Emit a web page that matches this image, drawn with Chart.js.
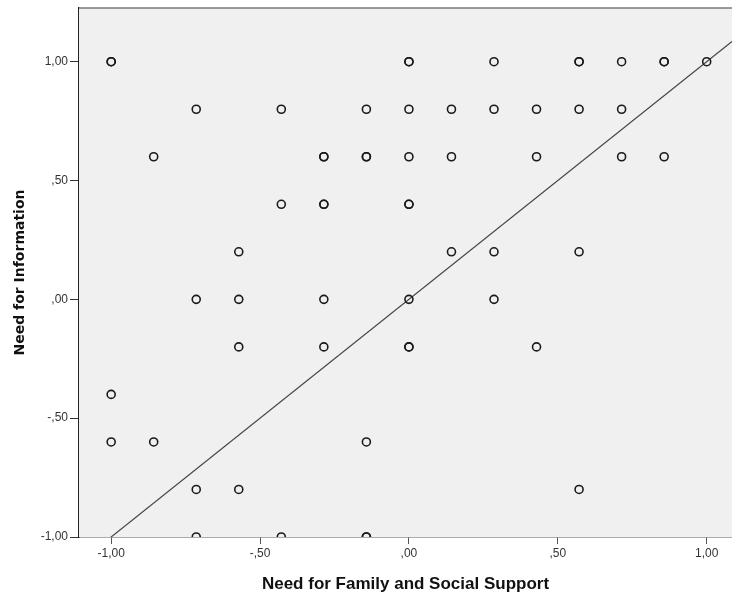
<!DOCTYPE html>
<html>
<head>
<meta charset="utf-8">
<script src="https://cdn.jsdelivr.net/npm/chart.js@4/dist/chart.umd.min.js"></script>
<style>
  html, body { margin: 0; padding: 0; background: #ffffff; overflow: hidden; }
  canvas { display: block; }
</style>
</head>
<body>
<canvas id="chart" width="732" height="597"></canvas>
<script>
// Need for Family and Social Support (x) vs Need for Information (y)
const familySupport = [
  -1, -1, 0, 0, 2/7, 4/7, 4/7, 5/7, 6/7, 6/7, 1,
  -5/7, -3/7, -1/7, 0, 1/7, 2/7, 3/7, 4/7, 5/7,
  -6/7, -2/7, -2/7, -1/7, -1/7, 0, 1/7, 3/7, 5/7, 6/7,
  -3/7, -2/7, -2/7, 0, 0,
  -4/7, 1/7, 2/7, 4/7,
  -5/7, -4/7, -2/7, 0, 2/7,
  -4/7, -2/7, 0, 0, 3/7,
  -1,
  -1, -6/7, -1/7,
  -5/7, -4/7, 4/7,
  -5/7, -3/7, -1/7, -1/7
];
const needInformation = [
  1, 1, 1, 1, 1, 1, 1, 1, 1, 1, 1,
  0.8, 0.8, 0.8, 0.8, 0.8, 0.8, 0.8, 0.8, 0.8,
  0.6, 0.6, 0.6, 0.6, 0.6, 0.6, 0.6, 0.6, 0.6, 0.6,
  0.4, 0.4, 0.4, 0.4, 0.4,
  0.2, 0.2, 0.2, 0.2,
  0, 0, 0, 0, 0,
  -0.2, -0.2, -0.2, -0.2, -0.2,
  -0.4,
  -0.6, -0.6, -0.6,
  -0.8, -0.8, -0.8,
  -1, -1, -1, -1
];

// Fit line: intercept and slope
const fitIntercept = 0.0;
const fitSlope = 1.0;

// Axis ranges and tick values
const xRange = [-1.108, 1.085];
const yRange = [-1.0, 1.226];
const tickValues = [-1, -0.5, 0, 0.5, 1];

const fmt = v => {
  const s = Math.abs(v).toFixed(2).replace('.', ',').replace(/^0,/, ',');
  return (v < 0 ? '-' : '') + s;
};

const points = familySupport.map((x, i) => ({ x: x, y: needInformation[i] }));
const fitLine = xRange.map(x => ({ x: x, y: fitIntercept + fitSlope * x }));

const frame = {
  id: 'frame',
  beforeDatasetsDraw(chart) {
    const { ctx, chartArea: a } = chart;
    ctx.save();
    ctx.fillStyle = '#f0f0f0';
    ctx.fillRect(a.left, a.top, a.right - a.left, a.bottom - a.top);
    ctx.restore();
  },
  afterDraw(chart) {
    const { ctx, chartArea: a } = chart;
    ctx.save();
    ctx.strokeStyle = '#7a7a7a';
    ctx.lineWidth = 1.5;
    ctx.beginPath();
    ctx.moveTo(a.left, a.top);
    ctx.lineTo(a.right, a.top);
    ctx.stroke();
    ctx.restore();
  }
};

const noPad = scale => {
  scale.paddingLeft = 0;
  scale.paddingRight = 0;
  scale.paddingTop = 0;
  scale.paddingBottom = 0;
};

new Chart(document.getElementById('chart'), {
  type: 'scatter',
  data: {
    datasets: [
      {
        type: 'line',
        data: fitLine,
        borderColor: '#444444',
        borderWidth: 1.2,
        pointRadius: 0,
        fill: false,
        order: 2
      },
      {
        data: points,
        pointRadius: 4,
        pointBorderWidth: 1.6,
        pointBorderColor: '#1a1a1a',
        pointBackgroundColor: 'rgba(0,0,0,0)',
        order: 1
      }
    ]
  },
  options: {
    responsive: false,
    animation: false,
    events: [],
    layout: { autoPadding: false, padding: { top: 8, right: 0, left: 0, bottom: 0 } },
    plugins: { legend: { display: false }, tooltip: { enabled: false } },
    scales: {
      x: {
        type: 'linear',
        min: xRange[0],
        max: xRange[1],
        afterBuildTicks(scale) { scale.ticks = tickValues.map(v => ({ value: v })); },
        afterFit(scale) { scale.height = 60; noPad(scale); },
        ticks: {
          callback: v => fmt(v),
          color: '#333333',
          font: { family: 'Liberation Sans', size: 12 },
          padding: 2,
          maxRotation: 0
        },
        grid: {
          drawOnChartArea: false,
          drawTicks: true,
          tickLength: 7,
          color: '#555555',
          lineWidth: 1
        },
        border: { display: true, color: '#5a5a5a', width: 1.5 },
        title: {
          display: true,
          text: 'Need for Family and Social Support',
          color: '#111111',
          font: { family: 'Liberation Sans', size: 17, weight: 'bold' },
          padding: { top: 4, bottom: 2 }
        }
      },
      y: {
        type: 'linear',
        min: yRange[0],
        max: yRange[1],
        afterBuildTicks(scale) { scale.ticks = tickValues.map(v => ({ value: v })); },
        afterFit(scale) { scale.width = 79; noPad(scale); },
        ticks: {
          callback: v => fmt(v),
          color: '#333333',
          font: { family: 'Liberation Sans', size: 12 },
          padding: 2
        },
        grid: {
          drawOnChartArea: false,
          drawTicks: true,
          tickLength: 9,
          color: '#333333',
          lineWidth: 1
        },
        border: { display: true, color: '#222222', width: 1.5 },
        title: {
          display: true,
          text: 'Need for Information',
          color: '#111111',
          font: { family: 'DejaVu Sans', size: 14, weight: 'bold' },
          padding: { top: 12, bottom: 4 }
        }
      }
    }
  },
  plugins: [frame]
});
</script>
</body>
</html>
